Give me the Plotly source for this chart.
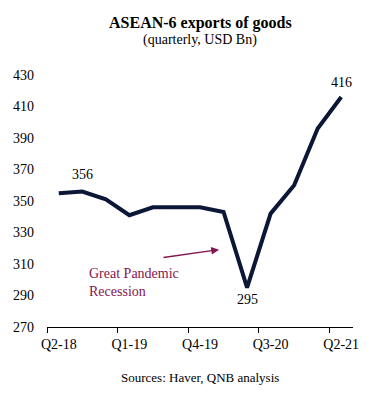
import plotly.graph_objects as go

quarters = ["Q2-18", "Q3-18", "Q4-18", "Q1-19", "Q2-19", "Q3-19", "Q4-19",
            "Q1-20", "Q2-20", "Q3-20", "Q4-20", "Q1-21", "Q2-21"]
exports = [355, 356, 351, 341, 346, 346, 346, 343, 295, 342, 360, 396, 416]
tick_labels = ["Q2-18", "Q1-19", "Q4-19", "Q3-20", "Q2-21"]
y_ticks = [270, 290, 310, 330, 350, 370, 390, 410, 430]

x_idx = list(range(len(quarters)))
label_pos = [quarters.index(t) for t in tick_labels]
boundaries = [p - 0.5 for p in label_pos]

FONT = "Liberation Serif, Times New Roman, serif"
LINE = "#0c1637"
MAROON = "#851450"

fig = go.Figure()
fig.add_trace(go.Scatter(x=x_idx, y=exports, mode="lines",
                         line=dict(color=LINE, width=4), hoverinfo="skip"))

# data labels
for q, dy in [("Q3-18", 17), ("Q2-21", 15), ("Q2-20", -12)]:
    i = quarters.index(q)
    fig.add_annotation(x=i, y=exports[i], text=str(exports[i]), showarrow=False,
                       yshift=dy, font=dict(family=FONT, size=14, color="#000"))

# pandemic arrow + text
fig.add_annotation(x=6.81, y=319.1, ax=4.385, ay=314.0, xref="x", yref="y",
                   axref="x", ayref="y", text="", showarrow=True,
                   arrowhead=2, arrowsize=1.2, arrowwidth=1.3, arrowcolor=MAROON)
fig.add_annotation(x=1.2, y=298.2, xref="x", yref="y", xanchor="left",
                   yanchor="middle", align="left", showarrow=False,
                   text="Great Pandemic<br>Recession",
                   font=dict(family=FONT, size=14, color=MAROON))

fig.add_annotation(x=0.5, y=1.0, xref="paper", yref="paper", yanchor="bottom",
                   yshift=41, showarrow=False,
                   text="<b>ASEAN-6 exports of goods</b>",
                   font=dict(family=FONT, size=16, color="#000"))
fig.add_annotation(x=0.5, y=1.0, xref="paper", yref="paper", yanchor="bottom",
                   yshift=25, showarrow=False, text="(quarterly, USD Bn)",
                   font=dict(family=FONT, size=14, color="#000"))
fig.add_annotation(x=0.5, y=0, xref="paper", yref="paper", yanchor="middle",
                   yshift=-50, showarrow=False, text="Sources: Haver, QNB analysis",
                   font=dict(family=FONT, size=13, color="#000"))

fig.update_layout(
    width=379, height=395,
    margin=dict(l=47, r=26, t=75, b=68),
    paper_bgcolor="white", plot_bgcolor="white",
    showlegend=False,
    font=dict(family=FONT, size=14, color="#000"),
    xaxis=dict(range=[-0.5, 12.5], tickvals=label_pos, ticktext=tick_labels,
               ticks="", showgrid=False, zeroline=False, showline=True,
               linecolor="#000", linewidth=1, ticklabelstandoff=4,
               minor=dict(tickvals=boundaries, ticks="outside", ticklen=5,
                          tickcolor="#000", tickwidth=1, showgrid=False)),
    yaxis=dict(range=[270, 430], tickvals=y_ticks, ticks="", showgrid=False,
               zeroline=False, showline=False, ticklabelstandoff=12),
)

fig.write_html("out.html", config={"displayModeBar": False},
               post_script="document.body.style.margin='0';document.body.style.overflow='hidden';")
